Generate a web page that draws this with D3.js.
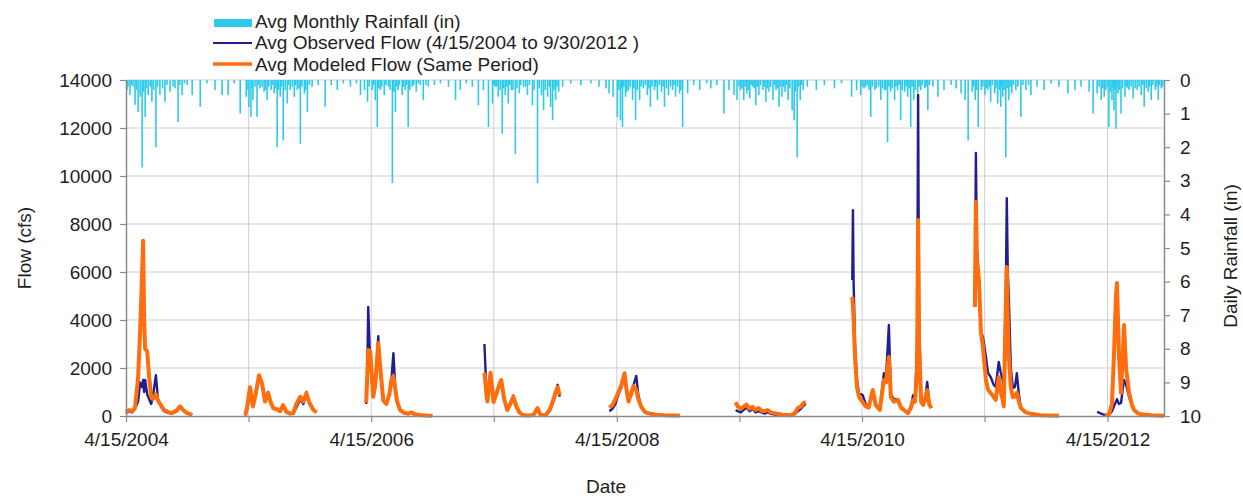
<!DOCTYPE html>
<html><head><meta charset="utf-8">
<script src="https://cdn.jsdelivr.net/npm/d3@7"></script>
<style>
body{margin:0;background:#fff}
text{font-family:"Liberation Sans",Arial,sans-serif;fill:#1e1e1e}
</style>
</head><body><svg id="c" width="1243" height="498"></svg>
<script>
// ---------- DATA ----------
const flowDates = [
"2004-04-15","2004-04-24","2004-05-03","2004-05-12","2004-05-21","2004-05-27","2004-06-02","2004-06-05","2004-06-08","2004-06-11","2004-06-17","2004-06-23","2004-06-29","2004-07-04","2004-07-13","2004-07-19","2004-07-28","2004-08-06","2004-08-18","2004-08-30","2004-09-14","2004-09-23","2004-10-02","2004-10-14","2004-10-29","2005-01-01",
"2005-04-05","2005-04-11","2005-04-19","2005-04-28","2005-05-07","2005-05-16","2005-05-25","2005-06-03","2005-06-12","2005-06-18","2005-06-27","2005-07-09","2005-07-18","2005-07-27","2005-08-05","2005-08-17","2005-08-26","2005-09-04","2005-09-16","2005-09-25","2005-10-04","2005-10-13","2005-10-25","2005-11-03","2006-01-01",
"2006-03-31","2006-04-03","2006-04-06","2006-04-12","2006-04-21","2006-04-27","2006-05-06","2006-05-12","2006-05-21","2006-05-30","2006-06-08","2006-06-14","2006-06-20","2006-06-26","2006-07-01","2006-07-10","2006-07-22","2006-08-03","2006-08-12","2006-08-24","2006-09-08","2006-09-26","2006-10-14","2007-01-01",
"2007-03-18","2007-03-24","2007-03-27","2007-04-05","2007-04-11","2007-04-14","2007-04-22","2007-05-01","2007-05-07","2007-05-16","2007-05-25","2007-06-03","2007-06-12","2007-06-21","2007-06-30","2007-07-12","2007-07-27","2007-08-11","2007-08-23","2007-09-01","2007-09-16","2007-09-28","2007-10-07","2007-10-16","2007-10-22","2007-10-28","2008-01-01",
"2008-03-24","2008-04-02","2008-04-11","2008-04-20","2008-04-29","2008-05-08","2008-05-14","2008-05-20","2008-05-29","2008-06-04","2008-06-12","2008-06-18","2008-06-27","2008-07-09","2008-07-24","2008-08-11","2008-09-04","2008-09-28","2008-10-19","2009-01-01",
"2009-04-04","2009-04-10","2009-04-19","2009-04-27","2009-05-06","2009-05-15","2009-05-24","2009-06-02","2009-06-11","2009-06-20","2009-06-29","2009-07-08","2009-07-17","2009-07-29","2009-08-10","2009-08-22","2009-09-03","2009-09-15","2009-09-27","2009-10-06","2009-10-15","2009-10-24","2009-10-30","2010-01-01",
"2010-03-17","2010-03-19","2010-03-21","2010-03-25","2010-03-31","2010-04-06","2010-04-17","2010-04-26","2010-05-05","2010-05-17","2010-05-26","2010-06-07","2010-06-13","2010-06-19","2010-06-25","2010-07-04","2010-07-10","2010-07-19","2010-07-31","2010-08-09","2010-08-18","2010-08-30","2010-09-08","2010-09-14","2010-09-20","2010-09-26","2010-09-29","2010-10-02","2010-10-08","2010-10-14","2010-10-20","2010-10-26","2010-11-01","2010-11-07","2011-01-01",
"2011-03-17","2011-03-20","2011-03-23","2011-03-29","2011-04-04","2011-04-10","2011-04-19","2011-04-25","2011-05-03","2011-05-12","2011-05-18","2011-05-27","2011-06-02","2011-06-08","2011-06-11","2011-06-17","2011-06-20","2011-06-23","2011-06-26","2011-07-02","2011-07-08","2011-07-14","2011-07-20","2011-07-26","2011-08-01","2011-08-16","2011-08-31","2011-09-29","2011-10-29","2011-11-22","2012-01-01",
"2012-03-15","2012-03-27","2012-04-07","2012-04-19","2012-04-28","2012-05-04","2012-05-10","2012-05-13","2012-05-19","2012-05-25","2012-05-31","2012-06-03","2012-06-09","2012-06-18","2012-06-27","2012-07-03","2012-07-15","2012-07-30","2012-08-23","2012-09-10","2012-09-30"
];
const observedFlow = [
100,200,150,300,600,1400,1200,1500,1000,1500,900,700,500,800,1700,700,400,200,130,100,200,380,250,120,40,null,
30,300,1100,450,900,1600,1300,650,1000,600,350,250,180,450,150,80,100,350,700,500,1000,500,250,150,null,
500,1500,4540,2200,800,1200,3330,1800,650,500,900,1500,2620,1100,600,250,120,80,150,60,30,10,5,null,
3000,1000,600,1700,900,600,900,1300,1500,700,300,500,850,400,150,50,30,50,250,50,30,200,500,900,1300,800,null,
200,300,500,900,1200,1700,1000,600,900,1300,1670,900,350,150,80,40,30,20,20,null,
250,200,150,250,350,200,300,150,200,150,100,150,100,60,40,30,30,30,80,200,300,450,500,null,
5670,8580,5600,3000,1500,950,870,500,400,1100,500,250,1000,1780,1500,3790,900,700,700,400,250,150,400,870,700,3000,13375,4000,700,460,700,1420,600,330,null,
4600,10960,7000,5700,3500,3290,2460,1800,1625,1300,1210,2250,1800,1500,1200,5000,9080,6000,4960,2000,1170,1200,1780,900,330,150,80,30,20,15,null,
170,100,40,40,200,400,600,700,500,540,1200,1500,1300,800,400,250,100,60,30,20,15
];
const modeledFlow = [
150,250,200,350,1600,3500,6000,7300,4000,2800,2700,1600,800,700,900,650,450,250,170,120,250,400,250,120,50,null,
20,400,1200,400,1000,1700,1350,600,950,650,330,280,200,460,180,100,120,500,800,600,950,550,250,150,null,
550,1600,2750,2700,800,1300,3040,2000,650,500,900,1500,1670,1100,600,250,130,100,150,70,40,20,10,null,
1800,900,600,1800,1000,580,900,1300,1500,700,250,500,800,400,150,30,20,40,330,40,30,250,580,1000,1200,870,null,
350,450,700,1000,1300,1780,1100,600,1000,1250,1100,700,375,150,100,50,30,25,20,null,
580,400,300,380,470,300,380,250,330,220,200,250,150,120,80,50,40,30,120,330,400,550,580,null,
4960,4600,4000,2500,1200,800,580,400,350,1080,450,250,900,1500,1400,2460,790,600,670,350,250,120,350,670,600,2000,8170,3000,600,460,700,1080,500,330,null,
4540,8920,6500,5670,3500,2875,1500,1100,960,800,670,1625,1000,670,400,4500,6210,4000,2500,1200,790,800,960,600,330,150,90,30,20,15,null,
null,null,40,40,500,2500,5000,5540,2500,960,2800,3790,2000,960,450,250,100,60,30,20,15
];
const rainDates = [
"2004-04-18","2004-04-27","2004-05-06","2004-05-12","2004-05-21","2004-05-27","2004-06-02","2004-06-11","2004-06-20","2004-07-01","2004-07-13","2004-07-25","2004-08-09","2004-08-24","2004-09-08","2004-09-17","2004-09-29","2004-10-14","2004-10-29","2004-11-22","2004-12-12","2005-01-05","2005-01-26","2005-02-13","2005-03-03","2005-03-21","2005-04-08",
"2005-04-16","2005-04-22","2005-04-28","2005-05-10","2005-05-19","2005-05-31","2005-06-09","2005-06-21","2005-06-30","2005-07-09","2005-07-18","2005-07-27","2005-08-08","2005-08-17","2005-08-29","2005-09-07","2005-09-16","2005-09-28","2005-10-07","2005-10-21","2005-11-08","2005-11-29","2005-12-17","2006-01-04","2006-01-22","2006-02-12","2006-03-02","2006-03-14","2006-03-26","2006-04-04",
"2006-04-18","2006-04-27","2006-05-03","2006-05-12","2006-05-24","2006-06-05","2006-06-17","2006-06-26","2006-07-04","2006-07-16","2006-07-25","2006-08-03","2006-08-15","2006-08-27","2006-09-08","2006-09-17","2006-10-02","2006-10-20","2006-11-07","2006-12-01","2006-12-22","2007-01-05","2007-01-23","2007-02-10","2007-02-28","2007-03-15","2007-03-30","2007-04-11",
"2007-04-19","2007-04-28","2007-05-10","2007-05-19","2007-05-28","2007-06-06","2007-06-18","2007-06-30","2007-07-12","2007-07-24","2007-08-08","2007-08-23","2007-09-04","2007-09-10","2007-09-22","2007-10-01","2007-10-07","2007-10-16","2007-10-25","2007-11-06","2007-11-30","2007-12-30","2008-01-29","2008-02-22","2008-03-14","2008-03-23","2008-04-04",
"2008-04-17","2008-04-26","2008-05-02","2008-05-11","2008-05-20","2008-06-01","2008-06-10","2008-06-22","2008-07-03","2008-07-15","2008-07-24","2008-08-05","2008-08-14","2008-08-26","2008-09-04","2008-09-16","2008-09-28","2008-10-07","2008-10-19","2008-10-28","2008-11-12","2008-11-30","2008-12-18","2009-01-08","2009-01-20","2009-02-07","2009-02-28","2009-03-15","2009-03-30","2009-04-08",
"2009-04-19","2009-04-28","2009-05-07","2009-05-16","2009-05-25","2009-06-03","2009-06-12","2009-06-24","2009-07-03","2009-07-12","2009-07-24","2009-08-02","2009-08-11","2009-08-20","2009-08-29","2009-09-07","2009-09-19","2009-09-25","2009-10-04","2009-10-13","2009-10-22","2009-11-03","2009-11-30","2009-12-24","2010-01-23","2010-02-13","2010-03-15","2010-03-30",
"2010-04-11","2010-04-26","2010-05-11","2010-05-23","2010-06-10","2010-06-21","2010-06-30","2010-07-09","2010-07-21","2010-07-30","2010-08-08","2010-08-20","2010-08-29","2010-09-07","2010-09-16","2010-09-28","2010-10-07","2010-10-19","2010-10-28","2010-11-12","2010-11-27","2010-12-15","2011-01-05","2011-01-20","2011-02-04","2011-02-16","2011-02-25","2011-03-09","2011-03-18","2011-03-27","2011-04-05",
"2011-04-16","2011-04-25","2011-05-03","2011-05-15","2011-05-24","2011-06-02","2011-06-08","2011-06-17","2011-06-26","2011-07-05","2011-07-17","2011-08-01","2011-08-16","2011-08-31","2011-09-18","2011-10-09","2011-10-30","2011-11-22","2011-12-19","2012-01-09","2012-01-27","2012-02-20","2012-03-03","2012-03-15","2012-03-27","2012-04-05",
"2012-04-19","2012-04-28","2012-05-04","2012-05-10","2012-05-16","2012-05-25","2012-06-06","2012-06-18","2012-06-30","2012-07-12","2012-07-24","2012-08-02","2012-08-14","2012-08-23","2012-09-04","2012-09-13","2012-09-22",
// lighter rain days
"2004-04-21","2004-05-01","2004-05-16","2004-06-06","2004-06-14","2004-06-26","2004-07-06","2004-07-18","2004-08-02","2004-08-15","2004-09-02","2004-09-22","2004-10-06",
"2005-04-13","2005-04-25","2005-05-04","2005-05-14","2005-05-25","2005-06-04","2005-06-14","2005-06-25","2005-07-05","2005-07-13","2005-07-22","2005-08-02","2005-08-12","2005-08-23","2005-09-02","2005-09-12","2005-09-21","2005-10-02","2005-10-13",
"2006-04-09","2006-04-22","2006-05-07","2006-05-17","2006-05-29","2006-06-10","2006-06-21","2006-06-30","2006-07-08","2006-07-20","2006-07-29","2006-08-08","2006-08-20","2006-09-02","2006-09-25",
"2007-04-15","2007-04-24","2007-05-04","2007-05-14","2007-05-23","2007-06-01","2007-06-11","2007-06-23","2007-07-04","2007-07-18","2007-07-30","2007-08-13","2007-08-28","2007-09-15","2007-09-27","2007-10-11","2007-10-20",
"2008-04-21","2008-04-30","2008-05-06","2008-05-15","2008-05-25","2008-06-05","2008-06-15","2008-06-27","2008-07-09","2008-07-19","2008-07-29","2008-08-09","2008-08-20","2008-08-31","2008-09-10","2008-09-22","2008-10-02","2008-10-13","2008-10-23",
"2009-04-14","2009-04-23","2009-05-02","2009-05-11","2009-05-20","2009-05-29","2009-06-07","2009-06-17","2009-06-28","2009-07-07","2009-07-17","2009-07-29","2009-08-06","2009-08-15","2009-08-25","2009-09-02","2009-09-12","2009-09-29","2009-10-08","2009-10-17",
"2010-04-16","2010-04-21","2010-05-01","2010-05-06","2010-05-16","2010-05-28","2010-06-04","2010-06-15","2010-06-25","2010-07-04","2010-07-14","2010-07-25","2010-08-03","2010-08-13","2010-08-24","2010-09-02","2010-09-11","2010-09-21","2010-10-02","2010-10-12","2010-10-23","2010-11-02",
"2011-03-13","2011-03-22","2011-04-10","2011-04-20","2011-04-29","2011-05-08","2011-05-19","2011-05-29","2011-06-05","2011-06-12","2011-06-21","2011-06-30","2011-07-10","2011-07-23","2011-08-07","2011-08-24",
"2012-03-21","2012-04-01","2012-04-10","2012-04-15","2012-04-23","2012-05-01","2012-05-07","2012-05-13","2012-05-20","2012-05-30","2012-06-10","2012-06-14","2012-06-24","2012-07-06","2012-07-18","2012-07-29","2012-08-08","2012-08-18","2012-08-28","2012-09-09","2012-09-17","2012-09-26"
];
const rainInches = [
0.3,0.45,0.2,0.74,0.95,0.5,2.6,1.1,0.45,0.65,2.0,0.45,0.65,0.35,0.25,1.25,0.45,0.15,0.45,0.8,0.1,0.3,0.45,0.45,0.1,1.0,0.5,
0.8,1.1,0.6,1.1,0.25,0.35,0.6,0.3,0.4,2.0,0.5,1.8,0.7,0.3,0.5,0.3,1.9,0.4,0.95,0.2,0.15,0.8,0.15,0.3,0.1,0.2,0.1,0.45,0.3,0.65,
0.3,0.6,1.4,0.3,0.45,0.2,3.07,0.95,0.3,0.45,0.3,1.4,0.2,0.35,0.15,0.6,0.2,0.15,0.1,0.2,0.6,0.3,0.1,0.2,0.75,0.3,1.4,0.7,
0.2,0.5,1.6,0.45,0.7,0.3,2.2,0.4,0.2,0.45,0.75,3.07,0.45,0.9,0.5,0.8,1.2,0.6,0.35,0.2,0.1,0.15,0.1,0.2,0.25,0.4,0.5,
1.1,1.2,1.4,0.5,0.3,0.6,1.2,0.6,0.25,0.45,0.8,0.3,0.6,0.35,0.8,0.45,0.3,0.5,0.4,1.4,0.4,0.15,0.3,0.1,0.25,0.15,1.0,0.3,0.45,0.6,
0.3,0.6,0.4,0.55,0.2,0.75,0.45,0.3,0.65,0.35,0.6,0.3,0.8,0.5,0.35,0.6,0.9,1.2,2.3,0.6,0.3,0.2,0.3,0.15,0.25,0.1,0.5,0.3,
0.45,0.2,1.1,0.3,0.6,0.3,1.85,0.35,0.6,0.3,1.2,0.35,0.5,1.4,0.6,0.4,0.3,0.25,0.9,0.2,0.5,0.3,0.15,0.25,0.4,0.6,1.8,0.35,0.6,1.4,0.3,
0.45,0.3,0.65,0.4,0.7,0.8,0.5,2.3,0.6,0.4,0.3,1.1,0.3,0.45,0.2,0.3,0.1,0.2,0.4,0.3,0.2,0.35,1.0,0.4,0.6,0.5,
1.4,0.6,0.9,1.45,0.4,1.0,0.5,0.3,0.55,0.3,0.45,0.8,0.35,0.6,0.3,0.6,0.25,
// lighter rain days
0.2,0.15,0.3,0.35,0.25,0.2,0.3,0.2,0.25,0.15,0.2,0.15,0.1,
0.3,0.25,0.2,0.15,0.2,0.3,0.2,0.15,0.25,0.3,0.2,0.3,0.15,0.2,0.15,0.25,0.2,0.3,0.15,
0.2,0.15,0.25,0.2,0.15,0.3,0.35,0.2,0.15,0.2,0.15,0.3,0.15,0.1,0.15,
0.15,0.2,0.3,0.25,0.2,0.15,0.3,0.25,0.15,0.2,0.15,0.3,0.25,0.3,0.2,0.3,0.2,
0.3,0.25,0.2,0.35,0.2,0.25,0.3,0.2,0.15,0.25,0.2,0.2,0.15,0.2,0.25,0.2,0.15,0.2,0.3,
0.2,0.25,0.2,0.3,0.15,0.25,0.2,0.15,0.2,0.25,0.2,0.15,0.25,0.2,0.2,0.15,0.25,0.35,0.2,0.15,
0.2,0.25,0.15,0.3,0.2,0.25,0.2,0.25,0.3,0.2,0.25,0.2,0.15,0.3,0.2,0.25,0.2,0.3,0.2,0.15,0.2,0.15,
0.2,0.3,0.2,0.25,0.2,0.15,0.25,0.3,0.2,0.3,0.25,0.2,0.15,0.2,0.15,0.15,
0.2,0.25,0.3,0.2,0.35,0.25,0.3,0.2,0.3,0.25,0.2,0.25,0.2,0.25,0.2,0.15,0.25,0.2,0.15,0.2,0.15,0.2
];
const dateDomain = ["2004-04-15","2012-09-30"];
const yearTickDates = ["2004-04-15","2005-04-15","2006-04-15","2007-04-15","2008-04-15","2009-04-15","2010-04-15","2011-04-15","2012-04-15"];
const labeledTickDates = ["2004-04-15","2006-04-15","2008-04-15","2010-04-15","2012-04-15"];
const flowTicks = [0,2000,4000,6000,8000,10000,12000,14000];
const rainTicks = [0,1,2,3,4,5,6,7,8,9,10];
const legendLabels = ["Avg Monthly Rainfall (in)","Avg Observed Flow (4/15/2004 to 9/30/2012 )","Avg Modeled Flow (Same Period)"];

// ---------- CHART ----------
const parse = d3.timeParse("%Y-%m-%d");
const fmt = d3.timeFormat("%-m/%-d/%Y");
const L = 126, R = 1164, T = 80, B = 416;
const C_RAIN = "#2ccbeb", C_OBS = "#1f1f8f", C_MOD = "#ff6d0d", C_AXIS = "#8a8a8a", C_GRID = "#cfcfcf";
const FS = "19px";

const svg = d3.select("#c");
const x = d3.scaleTime().domain(dateDomain.map(parse)).range([L, R]);
const yF = d3.scaleLinear().domain([0, 14000]).range([B, T]);
const yR = d3.scaleLinear().domain([0, 10]).range([T, B]);

// grid
svg.append("g").selectAll("line").data(flowTicks.slice(1)).join("line")
  .attr("x1", L).attr("x2", R).attr("y1", d => yF(d)).attr("y2", d => yF(d))
  .attr("stroke", C_GRID).attr("stroke-width", 1);
svg.append("g").selectAll("line").data(yearTickDates.slice(1)).join("line")
  .attr("x1", d => x(parse(d))).attr("x2", d => x(parse(d))).attr("y1", T).attr("y2", B)
  .attr("stroke", C_GRID).attr("stroke-width", 1);

// rainfall bars
const rain = rainDates.map((d, i) => ({date: parse(d), v: rainInches[i]}));
svg.append("g").selectAll("rect").data(rain).join("rect")
  .attr("x", d => x(d.date) - 0.8).attr("width", 1.6)
  .attr("y", yR(0)).attr("height", d => yR(d.v) - yR(0))
  .attr("fill", C_RAIN);

// flow lines
const flow = flowDates.map((d, i) => ({date: parse(d), obs: observedFlow[i], mod: modeledFlow[i]}));
const lineObs = d3.line().defined(d => d.obs != null).x(d => x(d.date)).y(d => yF(d.obs));
const lineMod = d3.line().defined(d => d.mod != null).x(d => x(d.date)).y(d => yF(d.mod));
svg.append("path").datum(flow).attr("d", lineObs).attr("fill", "none")
  .attr("stroke", C_OBS).attr("stroke-width", 2.4).attr("stroke-linejoin", "round");
svg.append("path").datum(flow).attr("d", lineMod).attr("fill", "none")
  .attr("stroke", C_MOD).attr("stroke-width", 4).attr("stroke-linejoin", "round");

// axes
function styleAxis(g) {
  g.select(".domain").attr("stroke", C_AXIS).attr("stroke-width", 1.5);
  g.selectAll(".tick line").attr("stroke", C_AXIS).attr("stroke-width", 1.2);
  g.selectAll(".tick text").style("font-size", FS).attr("fill", "#1e1e1e");
}
svg.append("g").attr("transform", `translate(${L},0)`)
  .call(d3.axisLeft(yF).tickValues(flowTicks).tickSizeInner(6).tickSizeOuter(0).tickPadding(8).tickFormat(d3.format("d")))
  .call(styleAxis);
svg.append("g").attr("transform", `translate(${R},0)`)
  .call(d3.axisRight(yR).tickValues(rainTicks).tickSizeInner(6).tickSizeOuter(0).tickPadding(10).tickFormat(d3.format("d")))
  .call(styleAxis);
const labeled = new Set(labeledTickDates);
svg.append("g").attr("transform", `translate(0,${B})`)
  .call(d3.axisBottom(x).tickValues(yearTickDates.map(parse)).tickSizeInner(6).tickSizeOuter(0).tickPadding(11)
    .tickFormat(d => labeled.has(d3.timeFormat("%Y-%m-%d")(d)) ? fmt(d) : ""))
  .call(styleAxis);

// axis titles
svg.append("text").attr("transform", "translate(31,248) rotate(-90)").attr("text-anchor", "middle")
  .style("font-size", FS).text("Flow (cfs)");
svg.append("text").attr("transform", "translate(1237,256) rotate(-90)").attr("text-anchor", "middle")
  .style("font-size", FS).text("Daily Rainfall (in)");
svg.append("text").attr("x", 606).attr("y", 493).attr("text-anchor", "middle")
  .style("font-size", FS).text("Date");

// legend
const lg = svg.append("g");
lg.append("rect").attr("x", 214).attr("y", 19).attr("width", 38).attr("height", 8).attr("fill", C_RAIN);
lg.append("line").attr("x1", 213).attr("x2", 252).attr("y1", 43).attr("y2", 43).attr("stroke", C_OBS).attr("stroke-width", 2);
lg.append("line").attr("x1", 213).attr("x2", 252).attr("y1", 64).attr("y2", 64).attr("stroke", C_MOD).attr("stroke-width", 3.5);
lg.selectAll("text").data(legendLabels).join("text")
  .attr("x", 255).attr("y", (d, i) => [28, 49, 71][i]).style("font-size", "19px").text(d => d);
</script>
</body></html>
